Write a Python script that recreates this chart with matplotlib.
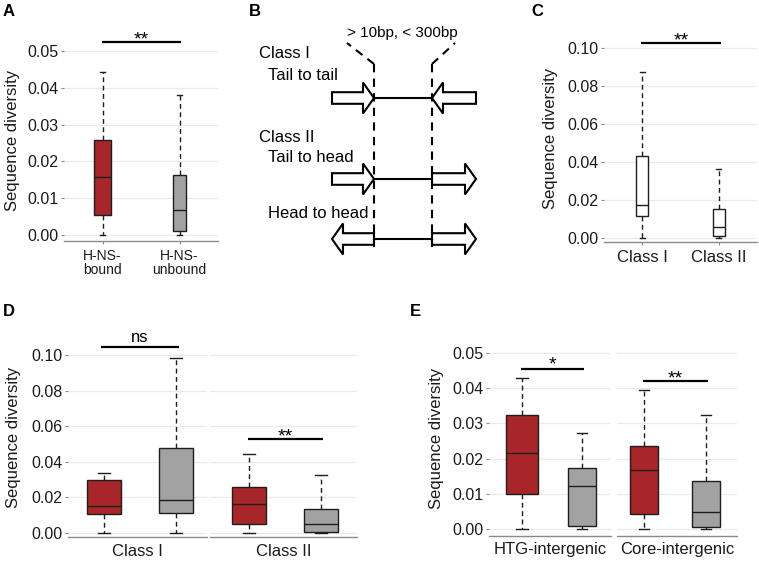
import matplotlib

matplotlib.use("Agg")
import matplotlib.pyplot as plt
from matplotlib.patches import Polygon
from matplotlib.lines import Line2D

# ---- data ----
# A: H-NS-bound vs unbound
a_labels = ["H-NS-\nbound", "H-NS-\nunbound"]
a_low = [0.0, 0.0]
a_q1 = [0.0053, 0.0010]
a_med = [0.0157, 0.0067]
a_q3 = [0.0258, 0.0163]
a_high = [0.0442, 0.0380]

# C: Class I vs Class II
c_labels = ["Class I", "Class II"]
c_low = [0.0, 0.0]
c_q1 = [0.0115, 0.0010]
c_med = [0.0175, 0.0060]
c_q3 = [0.0430, 0.0155]
c_high = [0.0875, 0.0365]

# D: bound / unbound within each class
d_facets = ["Class I", "Class II"]
d_low = [[0.0, 0.0], [0.0, 0.0]]
d_q1 = [[0.0105, 0.0115], [0.0050, 0.0008]]
d_med = [[0.0150, 0.0188], [0.0165, 0.0050]]
d_q3 = [[0.0298, 0.0475], [0.0258, 0.0137]]
d_high = [[0.0335, 0.0985], [0.0443, 0.0325]]
d_signif = ["ns", "**"]

# E: bound / unbound within HTG / core intergenic
e_facets = ["HTG-intergenic", "Core-intergenic"]
e_low = [[0.0, 0.0], [0.0, 0.0]]
e_q1 = [[0.0099, 0.0008], [0.0043, 0.0005]]
e_med = [[0.0217, 0.0122], [0.0168, 0.0048]]
e_q3 = [[0.0323, 0.0172], [0.0235, 0.0137]]
e_high = [[0.0428, 0.0272], [0.0395, 0.0323]]
e_signif = ["*", "**"]

# ---- style ----
W, H = 759, 563
RED = "#A8262A"
GREY = "#A2A2A2"
EDGE = "#1E1E1E"
AXIS = "#8A8A8A"
GRID = "#EAEAEA"

plt.rcParams["font.family"] = ["Liberation Sans", "DejaVu Sans"]

fig = plt.figure(figsize=(W / 100, H / 100), dpi=100, facecolor="white")

ov = fig.add_axes([0, 0, 1, 1])
ov.set_xlim(0, W)
ov.set_ylim(H, 0)
ov.axis("off")


def px_axes(x0, y0, x1, y1):
    """axes from a pixel box (y measured from the top)"""
    return fig.add_axes([x0 / W, 1 - y1 / H, (x1 - x0) / W, (y1 - y0) / H])


def style(ax, ylim, yticks, xlim, left=True):
    ax.set_xlim(*xlim)
    ax.set_ylim(*ylim)
    ax.set_yticks(yticks)
    ax.set_yticklabels([f"{t:.2f}" for t in yticks])
    for s in ["top", "right", "left"]:
        ax.spines[s].set_visible(False)
    ax.spines["bottom"].set_color(AXIS)
    ax.spines["bottom"].set_linewidth(1.0)
    ax.grid(axis="y", color=GRID, lw=0.9)
    ax.set_axisbelow(True)
    ax.tick_params(axis="y", length=2.5, color=AXIS, labelsize=11.5, pad=1.5, labelcolor="#1A1A1A")
    ax.tick_params(axis="x", length=2.5, color=AXIS, labelsize=12, pad=3, labelcolor="#1A1A1A")
    if not left:
        ax.tick_params(axis="y", left=False, labelleft=False)
    ax.set_facecolor("none")


def boxes(ax, lows, q1s, meds, q3s, highs, colors, widths):
    stats = [
        dict(whislo=l, q1=a, med=m, q3=b, whishi=h, fliers=[])
        for l, a, m, b, h in zip(lows, q1s, meds, q3s, highs)
    ]
    out = ax.bxp(
        stats,
        positions=[1, 2],
        widths=widths,
        capwidths=[w * 0.37 for w in widths],
        patch_artist=True,
        showfliers=False,
        boxprops=dict(edgecolor=EDGE, linewidth=1.0),
        whiskerprops=dict(color=EDGE, linewidth=1.0, linestyle=(0, (3.5, 2.5))),
        capprops=dict(color=EDGE, linewidth=1.0),
        medianprops=dict(color=EDGE, linewidth=1.0),
        manage_ticks=False,
    )
    for patch, c in zip(out["boxes"], colors):
        patch.set_facecolor(c)


def bracket(ax, y, text, x0=0.98, x1=2.03, size=14, off=-2.0):
    ax.plot([x0, x1], [y, y], color="black", lw=1.6, clip_on=False, solid_capstyle="butt")
    ax.annotate(text, xy=((x0 + x1) / 2, y), xytext=(0, off), textcoords="offset points",
                ha="center", va="baseline", fontsize=size, annotation_clip=False)


# ---- panel A ----
axA = px_axes(64, 20, 218, 241)
boxes(axA, a_low, a_q1, a_med, a_q3, a_high, [RED, GREY], [0.21, 0.16])
style(axA, (-0.00163, 0.0584), [0.0, 0.01, 0.02, 0.03, 0.04, 0.05], (0.5, 2.5))
axA.set_xticks([1, 2])
axA.set_xticklabels(a_labels, fontsize=10, linespacing=1.05)
bracket(axA, 0.0524, "**", x0=0.99, x1=2.02)

# ---- panel C ----
axC = px_axes(604, 20, 757, 242)
boxes(axC, c_low, c_q1, c_med, c_q3, c_high, ["white", "white"], [0.16, 0.16])
style(axC, (-0.0021, 0.1147), [0.0, 0.02, 0.04, 0.06, 0.08, 0.10], (0.5, 2.5))
axC.set_xticks([1, 2])
axC.set_xticklabels(c_labels)
bracket(axC, 0.1026, "**", x0=0.99, x1=2.03)

# ---- panel D (two facets) ----
d_boxes = [(68, 207, (0.5, 2.43)), (210, 357, (0.458, 2.5))]
d_y = [0.1045, 0.0528]
for i, (x0, x1, xl) in enumerate(d_boxes):
    ax = px_axes(x0, 325, x1, 537)
    boxes(ax, d_low[i], d_q1[i], d_med[i], d_q3[i], d_high[i], [RED, GREY], [0.47, 0.46])
    style(ax, (-0.00225, 0.1169), [0.0, 0.02, 0.04, 0.06, 0.08, 0.10], xl, left=(i == 0))
    ax.set_xticks([])
    ax.set_xlabel(d_facets[i], fontsize=12, labelpad=5, color="#1A1A1A")
    if d_signif[i] == "ns":
        bracket(ax, d_y[i], "ns", x0=0.96, x1=2.04, size=12, off=4)
    else:
        bracket(ax, d_y[i], d_signif[i])

# ---- panel E (two facets) ----
e_boxes = [(489, 611, (0.45, 2.48), [0.53, 0.47]), (617, 737, (0.565, 2.5), [0.44, 0.45])]
e_y = [0.0455, 0.0420]
for i, (x0, x1, xl, wd) in enumerate(e_boxes):
    ax = px_axes(x0, 335, x1, 536)
    boxes(ax, e_low[i], e_q1[i], e_med[i], e_q3[i], e_high[i], [RED, GREY], wd)
    style(ax, (-0.002, 0.0551), [0.0, 0.01, 0.02, 0.03, 0.04, 0.05], xl, left=(i == 0))
    ax.set_xticks([])
    ax.set_xlabel(e_facets[i], fontsize=12, labelpad=4, color="#1A1A1A")
    bracket(ax, e_y[i], e_signif[i], off=-0.5 if e_signif[i] == "*" else -2.0)

# ---- y labels and panel letters ----
for x, y in [(13, 140), (551, 138), (14, 437), (436, 438)]:
    ov.text(x, y, "Sequence diversity", rotation=90, ha="center", va="center", fontsize=12, color="#1A1A1A")
for x, y, t in [(9, 12, "A"), (255, 12, "B"), (537, 12, "C"), (9, 311, "D"), (415, 311, "E")]:
    ov.text(x, y, t, ha="center", va="center", fontsize=12, weight="bold")

# ---- panel B schematic ----
LW = 1.5


def arrow(tail, tip, yc, head=11, bh=5.8, hh=15.5):
    d = 1 if tip > tail else -1
    hb = tip - d * head
    pts = [(tail, yc - bh), (hb, yc - bh), (hb, yc - hh), (tip, yc),
           (hb, yc + hh), (hb, yc + bh), (tail, yc + bh)]
    ov.add_patch(Polygon(pts, closed=True, facecolor="white", edgecolor="black", lw=LW, joinstyle="miter"))


xl_, xr_ = 374, 432
ov.add_line(Line2D([xl_, xl_], [64, 247], color="black", lw=LW, ls=(0, (4, 3))))
ov.add_line(Line2D([xr_, xr_], [64, 247], color="black", lw=LW, ls=(0, (4, 3))))
ov.add_line(Line2D([xl_, 347], [64, 43], color="black", lw=LW, ls=(0, (4, 3))))
ov.add_line(Line2D([xr_, 455], [64, 43], color="black", lw=LW, ls=(0, (4, 3))))
ov.text(402, 33, "> 10bp, < 300bp", ha="center", va="center", fontsize=11)

rows = [98, 179, 239]
for yc in rows:
    ov.add_line(Line2D([xl_, xr_], [yc, yc], color="black", lw=LW))
arrow(332, xl_, rows[0])
arrow(476, xr_, rows[0])
arrow(332, xl_, rows[1])
arrow(xr_, 476, rows[1])
arrow(xl_, 332, rows[2])
arrow(xr_, 476, rows[2])

for x, y, t in [(259, 53, "Class I"), (268, 76, "Tail to tail"), (259, 137, "Class II"),
                (268, 158, "Tail to head"), (268, 213, "Head to head")]:
    ov.text(x, y, t, ha="left", va="center", fontsize=12)

fig.savefig("out.png", dpi=100, facecolor="white")
